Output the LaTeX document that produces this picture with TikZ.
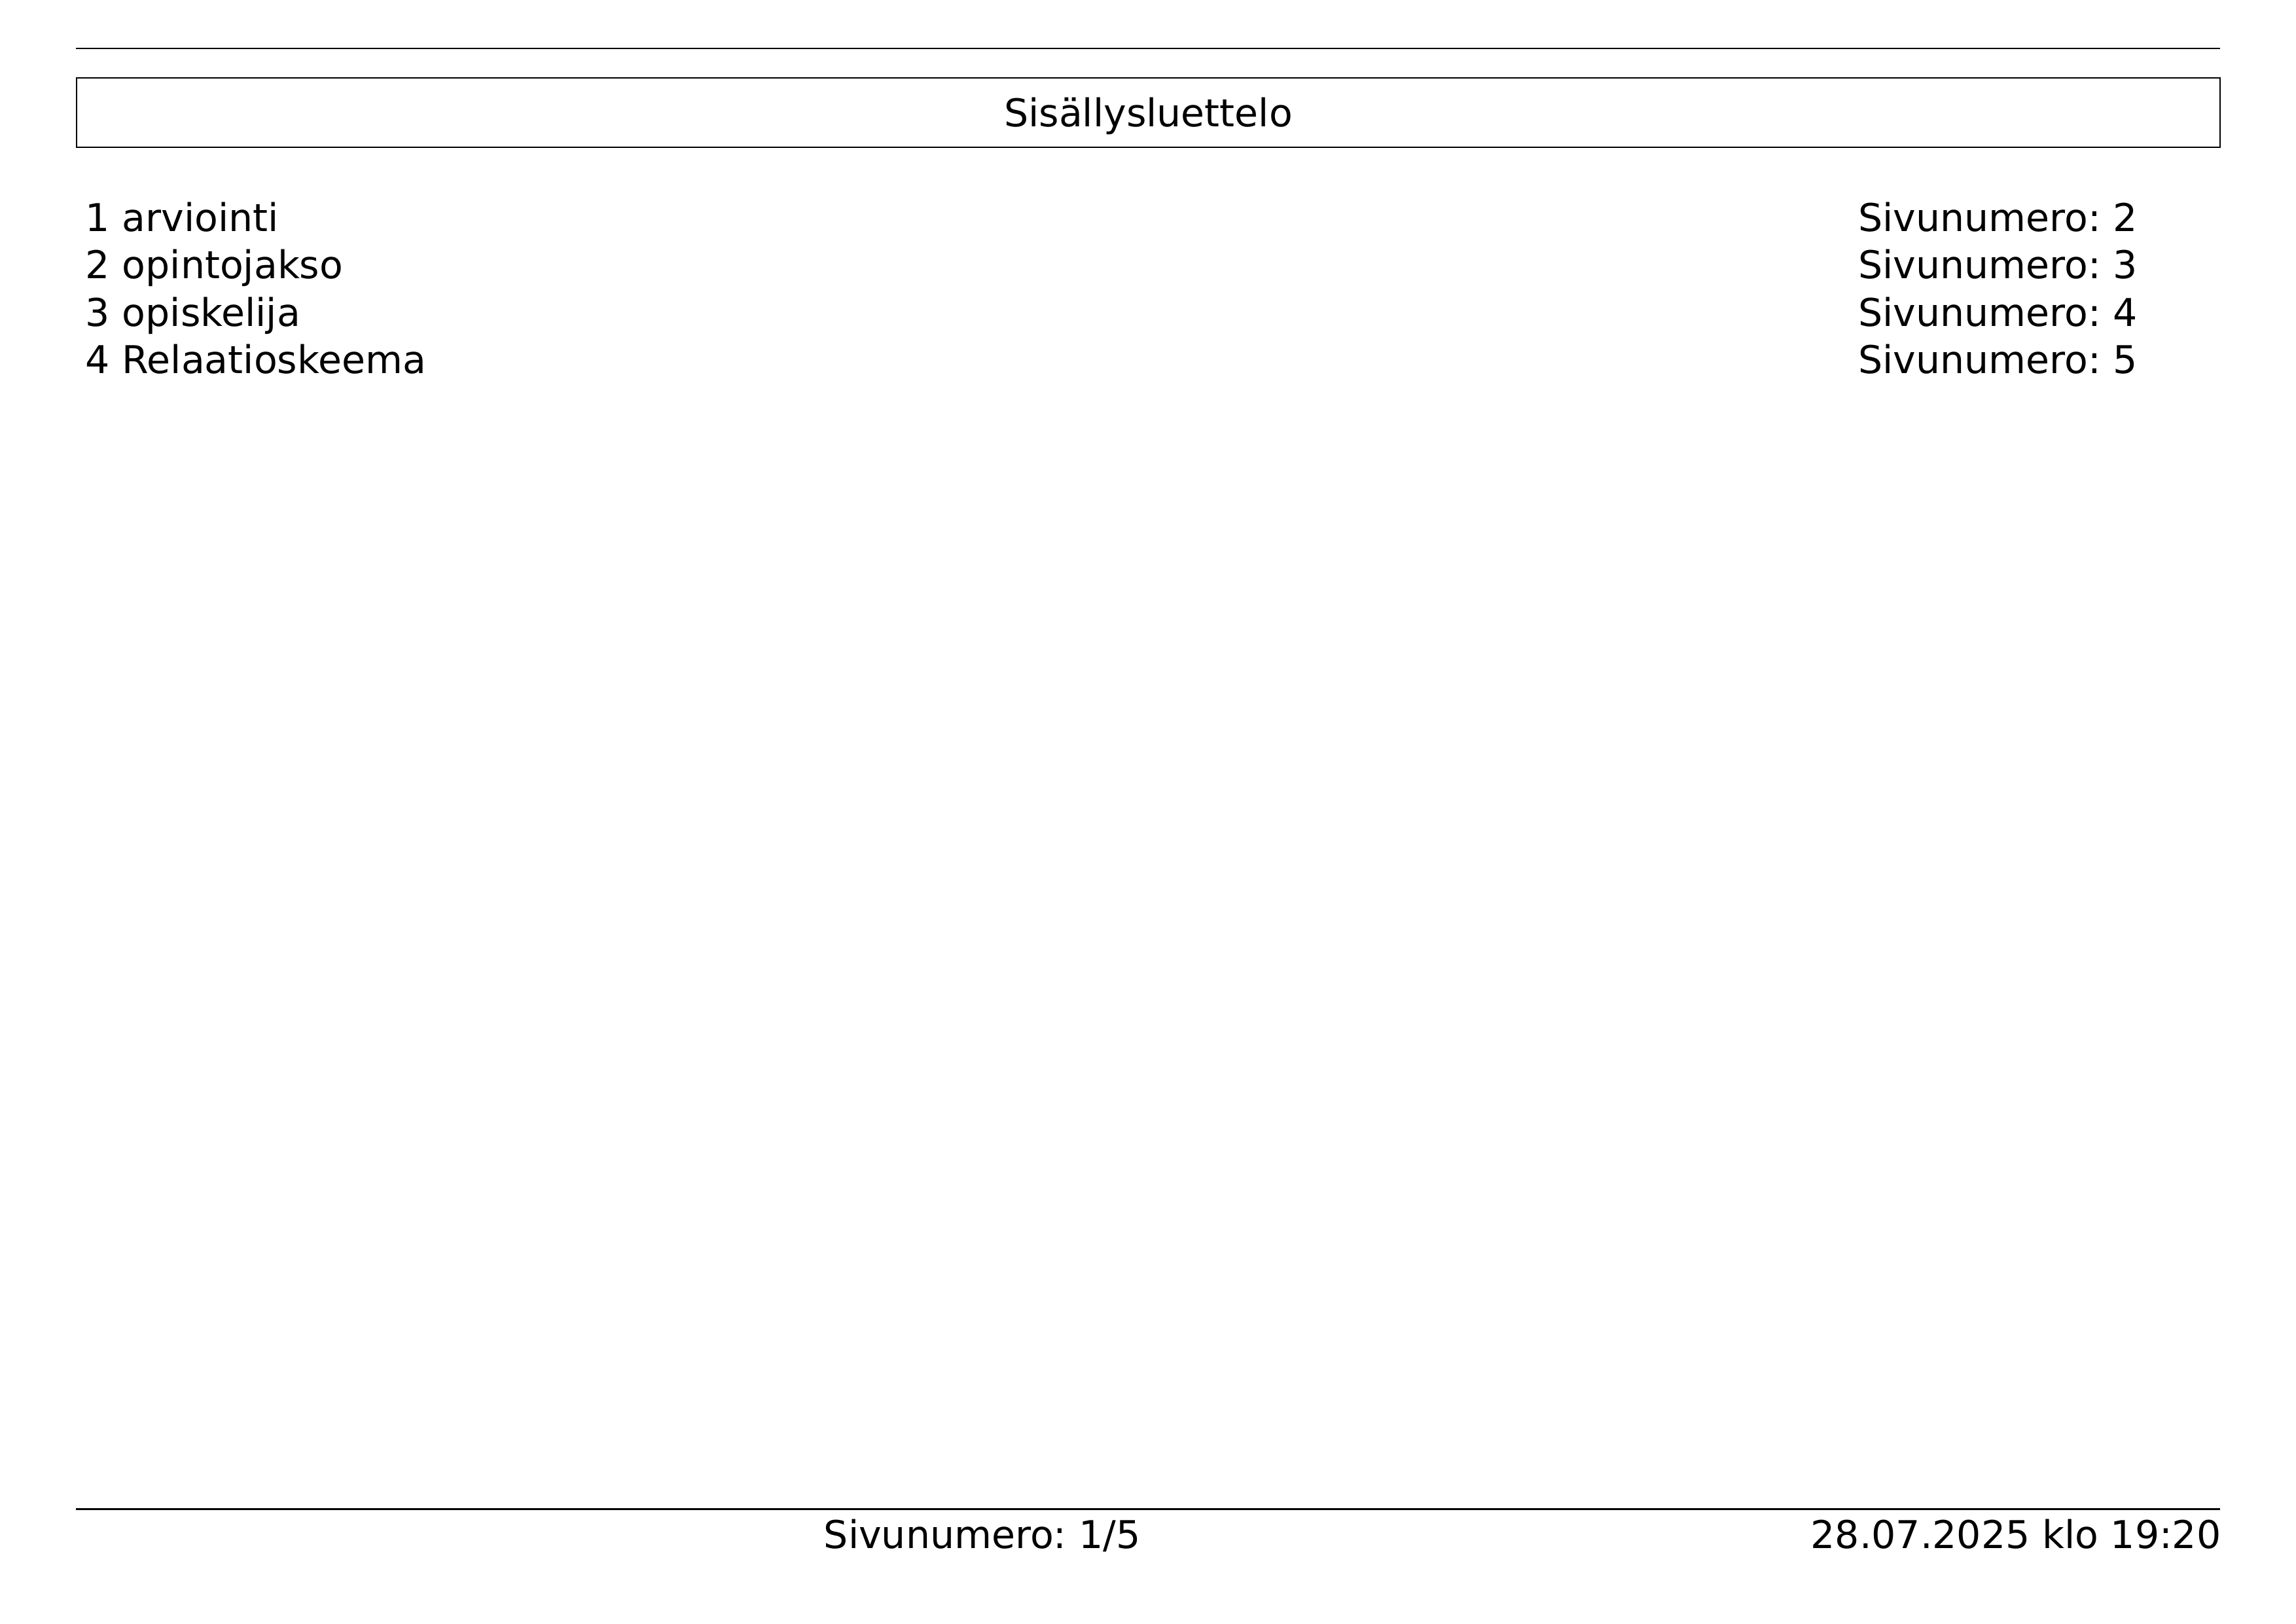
\documentclass[tikz,border=0pt]{standalone}
\usepackage{fontspec}
\setmainfont{DejaVu Sans}
\frenchspacing
\begin{document}
\begin{tikzpicture}[x=1mm,y=-1mm,line width=0.5pt]
\tikzset{teksti/.style={inner sep=0pt,font=\fontsize{14.1}{17}\selectfont\frenchspacing}}
\tikzset{rivi/.style={teksti,anchor=base west}}
\tikzset{oikea/.style={teksti,anchor=base east}}
\useasboundingbox (0,0) rectangle (297,210);
% ylaviiva ja otsikko
\coordinate (ylaV) at (9.8,6.27);
\coordinate (ylaO) at (287.2,6.27);
\draw (ylaV) -- (ylaO);
\node[draw,teksti,anchor=north west,minimum width=277.3mm,minimum height=9mm,
  text height=3.6mm,text depth=0pt] (otsikko) at (9.8,10) {Sisällysluettelo};
% sisallysluettelon rivit
\foreach \n/\nimi/\sivu in {1/arviointi/2,2/opintojakso/3,3/opiskelija/4,4/Relaatioskeema/5}{
  \node[rivi] (osa\n) at (11.0,{23.76+6.14*\n}) {\n\ \nimi};
  \node[rivi] (sivu\n) at (240.3,{23.76+6.14*\n}) {Sivunumero: \sivu};
}
% alatunniste
\coordinate (alaV) at (9.8,195.2);
\coordinate (alaO) at (287.2,195.2);
\draw[line width=0.6pt] (alaV) -- (alaO);
\node[oikea] (sivunumero) at (147.6,200.3) {Sivunumero: 1/5};
\node[oikea] (aika) at (287.4,200.3) {28.07.2025 klo 19:20};
\end{tikzpicture}
\end{document}
